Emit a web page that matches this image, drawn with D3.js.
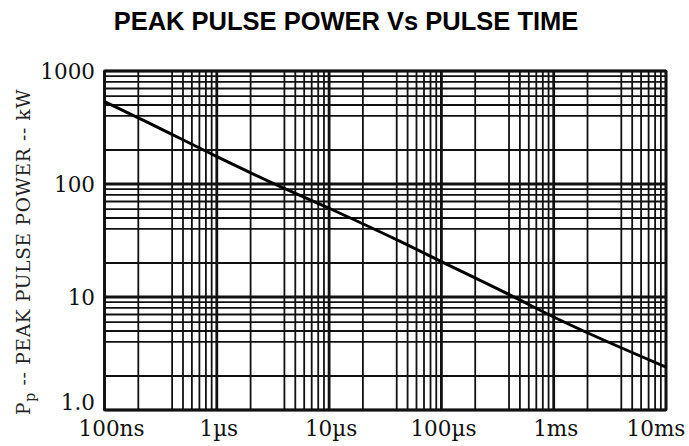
<!DOCTYPE html>
<html>
<head>
<meta charset="utf-8">
<script src="https://cdn.jsdelivr.net/npm/d3@7"></script>
<style>
  body { margin: 0; background: #fff; }
  .tick-label { font-family: "DejaVu Serif", serif; font-size: 21.5px; fill: #111; }
</style>
</head>
<body>
<script>
var width = 689,
    height = 446;

var margin = {top: 71, right: 23, bottom: 36, left: 104.5};

// curve: pulse time (s) vs peak pulse power (kW)
var pulseTime  = [1e-7, 2.2e-7, 1e-6, 3e-6, 1e-5, 4.3e-5, 1e-4, 4.1e-4, 1e-3, 1e-2];
var pulsePower = [535, 368, 175, 104, 61, 31, 20.6, 10.4, 6.65, 2.4];

var xTicks = [1e-7, 1e-6, 1e-5, 1e-4, 1e-3, 1e-2];
var xTickLabels = ["100ns", "1\u00b5s", "10\u00b5s", "100\u00b5s", "1ms", "10ms"];
var yTicks = [1000, 100, 10, 1];
var yTickLabels = ["1000", "100", "10", "1.0"];

// the grid skips the "3" line in every decade
var gridSteps = [1, 2, 4, 5, 6, 7, 8, 9];

var svg = d3.select("body")
    .append("svg")
    .attr("width", width)
    .attr("height", height);

var x = d3.scaleLog()
    .domain([1e-7, 1e-2])
    .range([margin.left, width - margin.right]);

var y = d3.scaleLog()
    .domain([1, 1000])
    .range([height - margin.bottom, margin.top]);

// Title
svg.append("text")
    .attr("x", 346)
    .attr("y", 30)
    .attr("text-anchor", "middle")
    .style("font-family", "'Liberation Sans', Arial, sans-serif")
    .style("font-weight", "bold")
    .style("font-size", "25.5px")
    .text("PEAK PULSE POWER Vs PULSE TIME");

// build grid values from decades
function gridValues(lo, hi) {
    var vals = [];
    for (var d = lo; d < hi; d *= 10) {
        gridSteps.forEach(function(s) { vals.push(d * s); });
    }
    vals.push(hi);
    return vals;
}

var xGrid = gridValues(1e-7, 1e-2);
var yGrid = gridValues(1, 1000);

function isDecade(v) {
    var l = Math.log10(v);
    return Math.abs(l - Math.round(l)) < 1e-6;
}

var grid = svg.append("g").attr("class", "grid");

grid.selectAll(".vline")
    .data(xGrid)
    .enter().append("line")
    .attr("class", "vline")
    .attr("x1", function(d) { return x(d); })
    .attr("x2", function(d) { return x(d); })
    .attr("y1", y(1000))
    .attr("y2", y(1))
    .attr("stroke", "#111")
    .attr("stroke-width", function(d) { return isDecade(d) ? 2.8 : 1.8; });

grid.selectAll(".hline")
    .data(yGrid)
    .enter().append("line")
    .attr("class", "hline")
    .attr("y1", function(d) { return y(d); })
    .attr("y2", function(d) { return y(d); })
    .attr("x1", x(1e-7))
    .attr("x2", x(1e-2))
    .attr("stroke", "#111")
    .attr("stroke-width", function(d) { return isDecade(d) ? 2.8 : 1.8; });

// frame
svg.append("rect")
    .attr("x", x(1e-7))
    .attr("y", y(1000))
    .attr("width", x(1e-2) - x(1e-7))
    .attr("height", y(1) - y(1000))
    .attr("fill", "none")
    .attr("stroke", "#111")
    .attr("stroke-width", 2.4);

// the power curve
var line = d3.line()
    .x(function(d) { return x(d[0]); })
    .y(function(d) { return y(d[1]); })
    .curve(d3.curveMonotoneX);

svg.append("path")
    .datum(d3.zip(pulseTime, pulsePower))
    .attr("d", line)
    .attr("fill", "none")
    .attr("stroke", "#000")
    .attr("stroke-width", 3);

// y tick labels (bottom one sits on the frame)
svg.selectAll(".ylab")
    .data(yTicks)
    .enter().append("text")
    .attr("class", "tick-label")
    .attr("x", 95)
    .attr("y", function(d) { return Math.min(y(d) + 8, y(1)); })
    .attr("text-anchor", "end")
    .text(function(d, i) { return yTickLabels[i]; });

// x tick labels, end ones kept inside the frame width
svg.selectAll(".xlab")
    .data(xTicks)
    .enter().append("text")
    .attr("class", "tick-label")
    .attr("x", function(d, i) {
        if (i === 0) return x(d) + 7;
        if (i === xTicks.length - 1) return x(d) - 10;
        return x(d) + 2;
    })
    .attr("y", 436)
    .attr("text-anchor", "middle")
    .text(function(d, i) { return xTickLabels[i]; });

// rotated y axis title with subscript p
var ytitle = svg.append("text")
    .attr("transform", "translate(30,415) rotate(-90)")
    .attr("text-anchor", "start")
    .style("font-family", "'DejaVu Serif', serif")
    .style("font-size", "18.5px")
    .style("letter-spacing", "0.75px")
    .style("fill", "#222");

ytitle.append("tspan").text("P");
ytitle.append("tspan").attr("dy", 5).style("font-size", "14px").text("p");
ytitle.append("tspan").attr("dy", -5).text(" -- PEAK PULSE POWER -- kW");
</script>
</body>
</html>
